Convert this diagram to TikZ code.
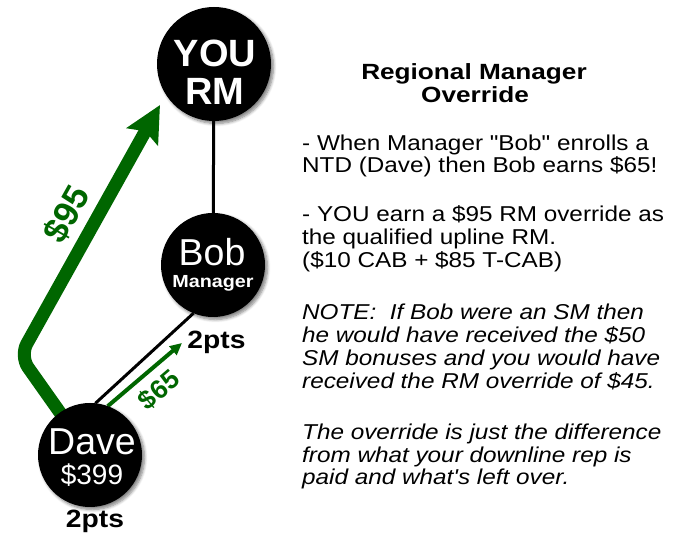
\documentclass[tikz,border=0pt]{standalone}
\usepackage{fontspec}
\setmainfont{Liberation Sans}
\newfontfamily\widesans[FakeStretch=1.13]{Liberation Sans}
\newfontfamily\titlesans[FakeStretch=1.19]{Liberation Sans}
\usetikzlibrary{arrows.meta,shadows.blur}
\definecolor{moneygreen}{RGB}{0,102,0}
\pgfdeclarelayer{bg}
\pgfsetlayers{bg,main}

\tikzset{
  ball/.style={circle, fill=black, inner sep=0pt, outer sep=0pt, minimum size=#1,
    blur shadow={shadow xshift=2.5pt, shadow yshift=-2.5pt, shadow blur radius=3pt,
      shadow blur steps=6, shadow opacity=50}},
  intxt/.style={text=white, inner sep=0pt, anchor=base},
  bigbold/.style={intxt, font=\bfseries\fontsize{38}{38}\selectfont},
  inname/.style={intxt, font=\fontsize{37.5}{38}\selectfont},
  inprice/.style={intxt, font=\fontsize{28}{28}\selectfont},
  insmall/.style={intxt, font=\widesans\bfseries\fontsize{17.5}{18}\selectfont},
  pts/.style={inner sep=0pt, anchor=base, font=\widesans\bfseries\fontsize{25}{25}\selectfont},
  title/.style={inner sep=0pt, anchor=base, font=\titlesans\bfseries\fontsize{22}{22}\selectfont},
  body/.style={inner sep=0pt, anchor=base west, font=\widesans\fontsize{21.5}{22}\selectfont},
  note/.style={body, font=\widesans\itshape\fontsize{21.5}{22}\selectfont},
  tie/.style={draw=black, line width=3pt},
  bigflow/.style={draw=moneygreen, line width=13pt, rounded corners=14pt,
    -{Stealth[length=36pt, width=35pt, inset=6pt]}},
  smallflow/.style={draw=moneygreen, line width=4pt,
    -{Triangle[length=12pt, width=11pt]}},
  money/.style={text=moneygreen, inner sep=0pt, font=\bfseries},
}

\begin{document}
\begin{tikzpicture}[x=1pt, y=1pt]
\useasboundingbox (0,0) rectangle (686,540);

% the three people
\node[ball=114pt] (you)  at (214,476) {};
\node[ball=104pt] (bob)  at (213,275) {};
\node[ball=104pt] (dave) at (90,85)   {};

\node[bigbold] (youtxt) at (215,473) {YOU};
\node[bigbold] (rmtxt)  at (215,435) {RM};
\node[inname]  (bobtxt) at (212,274) {Bob};
\node[insmall] (bobrole) at (213,252.7) {Manager};
\node[inname]  (davetxt) at (92,85) {Dave};
\node[inprice] (daveprice) at (92,55) {\$399};

\node[pts] (bobpts)  at (216.5,191) {2pts};
\node[pts] (davepts) at (95,12)     {2pts};

% money flows and upline ties, behind the circles
\coordinate (bend) at (20,184);
\coordinate (tip95) at (160,435);
\coordinate (tip65) at (182,197);
\begin{pgfonlayer}{bg}
  \draw[tie] (you) -- (bob);
  \draw[tie] (dave.84) -- (bob.248);
  \draw[bigflow] (dave.center) -- (bend) -- (tip95);
  \draw[smallflow] (dave.70) -- (tip65);
\end{pgfonlayer}

\node[money, font=\bfseries\fontsize{35}{35}\selectfont, rotate=60.8] (amt95) at (67,326) {\$95};
\node[money, font=\bfseries\fontsize{26.5}{26.5}\selectfont, rotate=40.4] (amt65) at (159,150) {\$65};

% explanation
\node[title] (head1) at (474,460) {Regional Manager};
\node[title] (head2) at (475,437) {Override};

\node[body] (p1a) at (302,389.5) {- When Manager "Bob" enrolls a};
\node[body] (p1b) at (302,367)   {NTD (Dave) then Bob earns \$65!};

\node[body] (p2a) at (302,318) {- YOU earn a \$95 RM override as};
\node[body] (p2b) at (302,295) {the qualified upline RM.};
\node[body] (p2c) at (302,272) {(\$10 CAB + \$85 T-CAB)};

\node[note] (p3a) at (302,220) {NOTE:\ \ If Bob were an SM then};
\node[note] (p3b) at (302,197) {he would have received the \$50};
\node[note] (p3c) at (302,174) {SM bonuses and you would have};
\node[note] (p3d) at (302,151) {received the RM override of \$45.};

\node[note] (p4a) at (302,100)  {The override is just the difference};
\node[note] (p4b) at (302,77.5) {from what your downline rep is};
\node[note] (p4c) at (302,55.5) {paid and what's left over.};
\end{tikzpicture}
\end{document}
